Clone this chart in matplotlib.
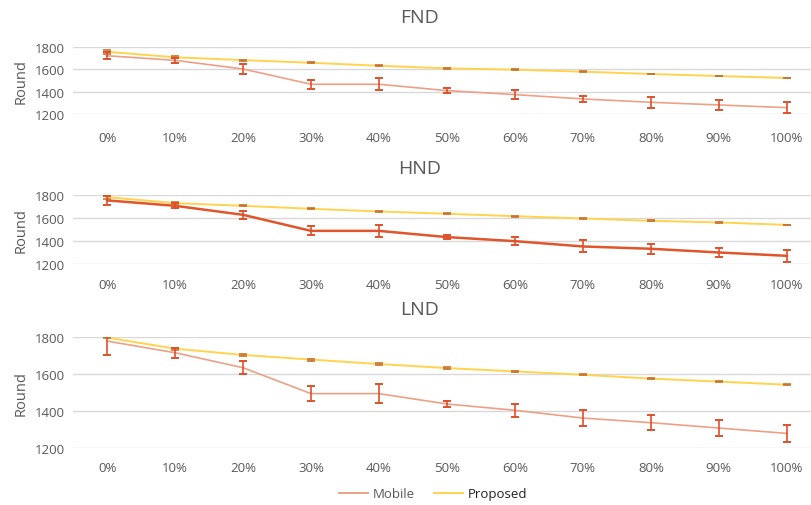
import matplotlib.pyplot as plt
import numpy as np

plt.rcParams['font.family'] = ['Open Sans', 'DejaVu Sans']

labels = ['0%', '10%', '20%', '30%', '40%', '50%', '60%', '70%', '80%', '90%', '100%']

fnd_mobile = [1722, 1681, 1603, 1466, 1466, 1409, 1373, 1334, 1304, 1280, 1256]
fnd_mobile_err = [30, 24, 43, 39, 54, 25, 40, 30, 49, 48, 49]
fnd_prop = [1758, 1708, 1683, 1659, 1632, 1609, 1597, 1579, 1558, 1540, 1522]
fnd_prop_err = [18, 8, 5, 4, 5, 3, 4, 4, 4, 4, 3]

hnd_mobile = [1752, 1705, 1627, 1488, 1488, 1434, 1399, 1353, 1333, 1301, 1272]
hnd_mobile_err = [36, 23, 37, 39, 53, 20, 37, 52, 42, 43, 50]
hnd_prop = [1780, 1728, 1705, 1679, 1656, 1636, 1615, 1595, 1575, 1561, 1540]
hnd_prop_err = [18, 8, 4, 5, 3, 4, 4, 3, 3, 3, 3]

lnd_mobile = [1778, 1715, 1634, 1494, 1494, 1438, 1404, 1362, 1337, 1308, 1279]
lnd_mobile_err = [74, 27, 34, 40, 50, 18, 36, 44, 39, 45, 47]
lnd_prop = [1797, 1737, 1703, 1678, 1654, 1632, 1614, 1596, 1575, 1559, 1542]
lnd_prop_err = [5, 5, 4, 5, 4, 5, 3, 4, 4, 3, 4]

grey = '#595959'
mobile_light = '#EDA086'
mobile_dark = '#E0552B'
err_col = '#E0502A'
prop_col = '#FFD34D'
prop_err_col = '#C8732E'

fig = plt.figure(figsize=(8.12, 5.06), dpi=100)

panels = [
    ('FND', fnd_mobile, fnd_mobile_err, fnd_prop, fnd_prop_err, mobile_light, 1.2, [0.09, 0.773, 0.91, 0.132], 18, 12),
    ('HND', hnd_mobile, hnd_mobile_err, hnd_prop, hnd_prop_err, mobile_dark, 1.8, [0.09, 0.476, 0.91, 0.137], 169, 10),
    ('LND', lnd_mobile, lnd_mobile_err, lnd_prop, lnd_prop_err, mobile_light, 1.2, [0.09, 0.1126, 0.91, 0.2194], 310, 9),
]

x = np.arange(len(labels))
for title, mob, mob_err, prop, prop_err, mcol, mlw, rect, ty, xpad in panels:
    ax = fig.add_axes(rect)
    ax.plot(x, prop, color=prop_col, lw=1.4, zorder=3, label='Proposed')
    ax.errorbar(x, prop, yerr=prop_err, fmt='none', ecolor=prop_err_col,
                elinewidth=1.0, capsize=3, capthick=1.2, zorder=4)
    ax.plot(x, mob, color=mcol, lw=mlw, zorder=3, label='Mobile')
    ax.errorbar(x, mob, yerr=mob_err, fmt='none', ecolor=err_col,
                elinewidth=1.2, capsize=3, capthick=1.4, zorder=4)
    ax.set_ylim(1200, 1800)
    ax.set_yticks([1200, 1400, 1600, 1800])
    ax.set_xlim(-0.5, 10.37)
    ax.set_xticks(x)
    ax.set_xticklabels(labels)
    ax.grid(axis='y', color='#D9D9D9', lw=1)
    ax.set_axisbelow(True)
    for s in ax.spines.values():
        s.set_visible(False)
    ax.tick_params(length=0, labelsize=9.5, colors=grey)
    ax.tick_params(axis='x', pad=xpad)
    ax.tick_params(axis='y', pad=6)
    ax.set_ylabel('Round', color=grey, fontsize=10.5, labelpad=4)
    fig.text(420 / 812, 1 - ty / 506, title, ha='center', va='center',
             fontsize=14, color=grey)

handles = [plt.Line2D([], [], color=mobile_light, lw=1.4),
           plt.Line2D([], [], color=prop_col, lw=1.4)]
leg = fig.legend(handles, ['Mobile', 'Proposed'], loc='center',
                 bbox_to_anchor=(433 / 812, 1 - 495 / 506), ncol=2,
                 frameon=False, fontsize=9.5, handlelength=2.2,
                 columnspacing=1.4, handletextpad=0.4)
for t in leg.get_texts():
    t.set_color(grey)
leg.get_texts()[1].set_color('#222222')

fig.savefig('out.png', dpi=100)
